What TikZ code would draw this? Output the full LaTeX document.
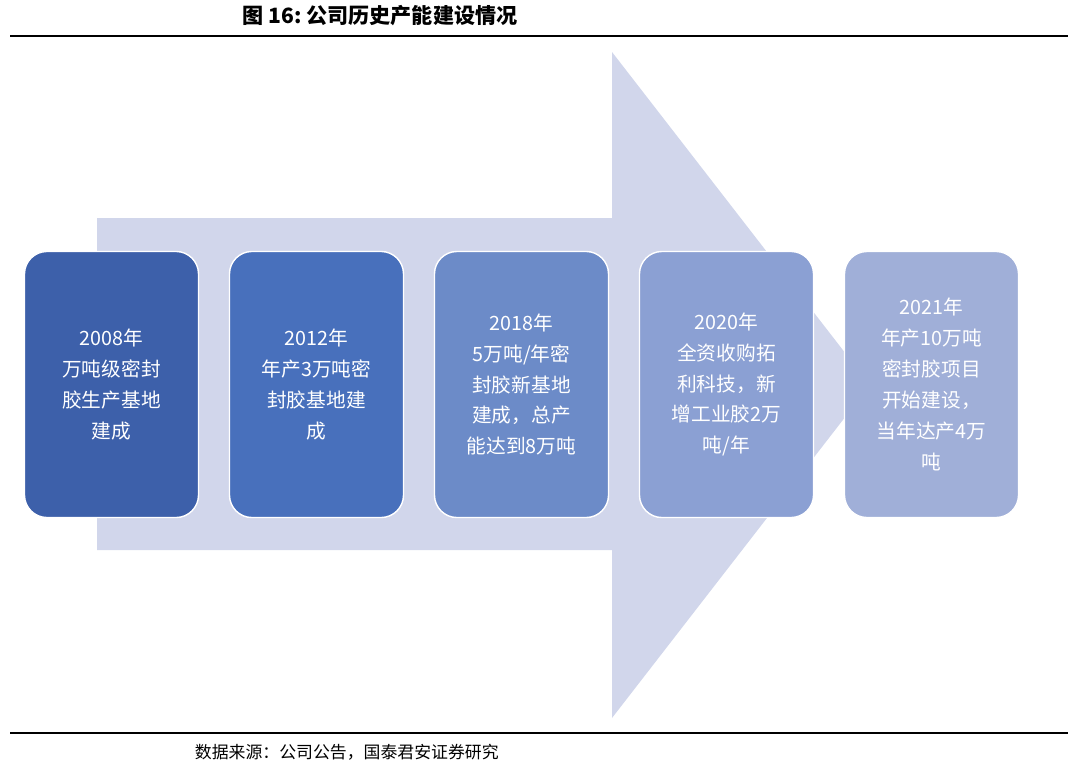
\documentclass[tikz,border=0pt]{standalone}
\usepackage{fontspec}
\setmainfont{Liberation Serif}
\newfontfamily\cjk{Noto Sans CJK SC}
\definecolor{arrowbg}{RGB}{209,214,235}
\definecolor{stepA}{RGB}{61,96,170}
\definecolor{stepB}{RGB}{72,112,188}
\definecolor{stepC}{RGB}{108,139,200}
\definecolor{stepD}{RGB}{139,160,211}
\definecolor{stepE}{RGB}{160,175,216}
\tikzset{
  yearbox/.style={draw=white, line width=1pt, rounded corners=16pt, minimum width=4.35cm, minimum height=6.65cm, text=white, align=center, font=\cjk\fontsize{14}{22}\selectfont}
}
\begin{document}
\begin{tikzpicture}[x=0.025cm,y=-0.025cm]
	\useasboundingbox (0,0) rectangle (1080,770);
	\node[font=\cjk\bfseries\fontsize{15}{18}\selectfont] (title) at (380,16) {图 16:\ 公司历史产能建设情况};
	\draw[line width=0.8pt] (10,36) -- (1068,36);
	\fill[arrowbg] (97,218) -- (612,218) -- (612,52) -- (870,385) -- (612,718) -- (612,550) -- (97,550) -- cycle;
	\node[yearbox, fill=stepA] (y2008) at (111.5,384.5) {2008年\\万吨级密封\\胶生产基地\\建成};
	\node[yearbox, fill=stepB] (y2012) at (316.5,384.5) {2012年\\年产3万吨密\\封胶基地建\\成};
	\node[yearbox, fill=stepC] (y2018) at (521.5,384.5) {2018年\\5万吨/年密\\封胶新基地\\建成，总产\\能达到8万吨};
	\node[yearbox, fill=stepD] (y2020) at (726.5,384.5) {2020年\\全资收购拓\\利科技，新\\增工业胶2万\\吨/年};
	\node[yearbox, fill=stepE] (y2021) at (931.5,384.5) {2021年\\年产10万吨\\密封胶项目\\开始建设，\\当年达产4万\\吨};
	\draw[line width=0.8pt] (10,733) -- (1068,733);
	\node[anchor=west, font=\cjk\fontsize{12}{14}\selectfont] (source) at (190,752) {数据来源：公司公告，国泰君安证券研究};
\end{tikzpicture}
\end{document}
